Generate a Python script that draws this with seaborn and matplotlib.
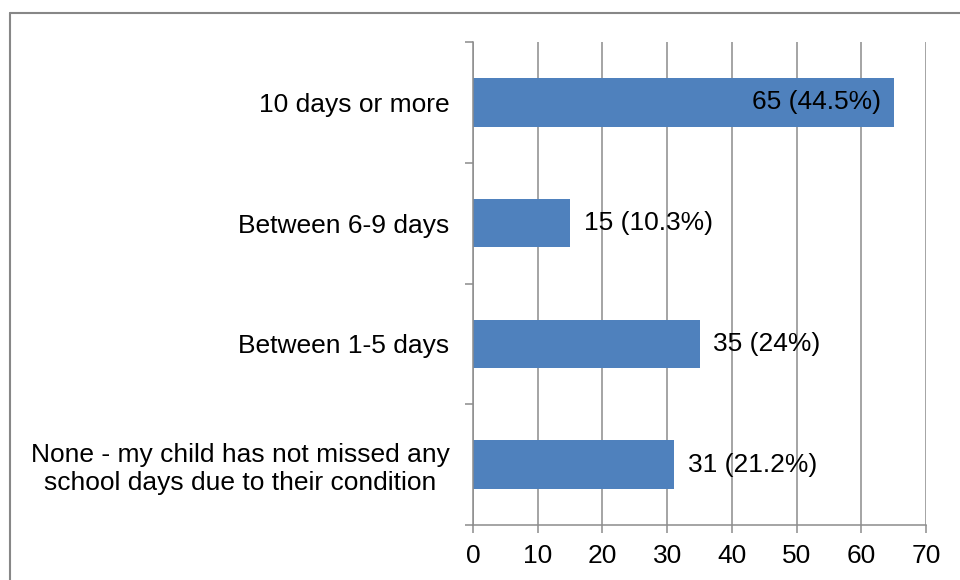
import numpy as np
import seaborn as sns
import matplotlib.pyplot as plt
from matplotlib.lines import Line2D
from matplotlib.ticker import FixedLocator

# data (top to bottom)
categories = ['10 days or more', 'Between 6-9 days', 'Between 1-5 days',
              'None - my child has not missed any\nschool days due to their condition']
counts = [65, 15, 35, 31]
labels = ['65 (44.5%)', '15 (10.3%)', '35 (24%)', '31 (21.2%)']
x_ticks = [0, 10, 20, 30, 40, 50, 60, 70]

sns.set_style('white')
plt.rcParams['font.family'] = ['Liberation Sans', 'DejaVu Sans']
plt.rcParams['text.color'] = 'black'
plt.rcParams['xtick.labelcolor'] = 'black'
plt.rcParams['ytick.labelcolor'] = 'black'
grey = '#8C8C8C'
fs = 19

fig = plt.figure(figsize=(9.6, 5.8), dpi=100)
ax = fig.add_axes([473 / 960, 1 - 525 / 580, (926 - 473) / 960, (525 - 42) / 580])

sns.barplot(x=counts, y=categories, orient='h', color='#4F81BD',
            saturation=1, width=0.4, linewidth=0, ax=ax)

ax.set_xlim(0, 70)
ax.set_ylim(3.5, -0.5)
ax.set_xticks(x_ticks)
ax.set_xticklabels([str(t) for t in x_ticks], fontsize=fs)
ax.set_axisbelow(True)
ax.xaxis.grid(True, color=grey, linewidth=1.1)
ax.yaxis.grid(False)

# category labels at centres, tick marks at boundaries
ax.set_yticks(range(len(categories)))
ax.set_yticklabels(categories, fontsize=fs, multialignment='center')
ax.yaxis.set_minor_locator(FixedLocator(np.arange(-0.5, len(categories), 1)))
ax.tick_params(axis='y', which='major', length=0, pad=17)
ax.tick_params(axis='y', which='minor', length=6, width=1.1, color=grey, left=True)
ax.tick_params(axis='x', which='major', length=6, width=1.1, color=grey, bottom=True, pad=8)

for side in ['top', 'right']:
    ax.spines[side].set_visible(False)
for side in ['left', 'bottom']:
    ax.spines[side].set_color(grey)
    ax.spines[side].set_linewidth(1.1)

ax.set_xlabel('')
ax.set_ylabel('')

# value labels
for i, (v, lab) in enumerate(zip(counts, labels)):
    if v > 50:
        ax.annotate(lab, (v, i), xytext=(-9, 0), textcoords='offset points',
                    ha='right', va='center', fontsize=fs)
    else:
        ax.annotate(lab, (v, i), xytext=(10, 0), textcoords='offset points',
                    ha='left', va='center', fontsize=fs)

# chart area border (left and top visible)
y_top = 1 - 12.5 / 580
x_left = 9.5 / 960
fig.add_artist(Line2D([x_left, x_left], [0, y_top], transform=fig.transFigure,
                      color='#878787', linewidth=1.5))
fig.add_artist(Line2D([x_left, 1], [y_top, y_top], transform=fig.transFigure,
                      color='#878787', linewidth=1.5))

fig.savefig('out.png', dpi=100)
